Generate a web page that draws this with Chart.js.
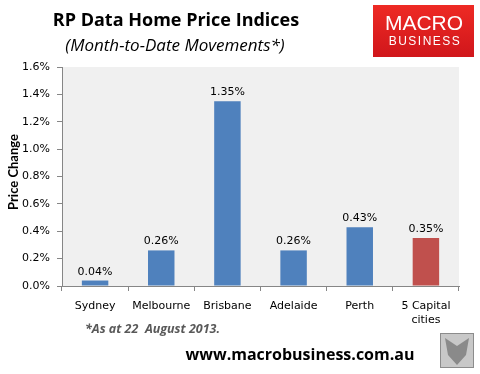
<!DOCTYPE html>
<html>
<head>
<meta charset="utf-8">
<script src="https://cdn.jsdelivr.net/npm/chart.js@4/dist/chart.umd.min.js"></script>
<style>
  html, body { margin: 0; padding: 0; background: #fff; }
  #wrap { position: relative; width: 480px; height: 374px; }
</style>
</head>
<body>
<div id="wrap"><canvas id="priceChart" width="480" height="374"></canvas></div>
<script>
const cities = ["Sydney", "Melbourne", "Brisbane", "Adelaide", "Perth", ["5 Capital", "cities"]];
const changes = [0.04, 0.26, 1.35, 0.26, 0.43, 0.35];
const barColors = ["#4F81BD", "#4F81BD", "#4F81BD", "#4F81BD", "#4F81BD", "#C0504D"];
const yTicks = [0, 0.2, 0.4, 0.6, 0.8, 1.0, 1.2, 1.4, 1.6];

const tickFont = { family: "'DejaVu Sans', sans-serif", size: 11 };

// grey plot area, value labels and the extra text around the chart
const decorations = {
    id: 'decorations',
    beforeDraw(chart) {
        let a = chart.chartArea;
        let c = chart.ctx;
        c.save();
        c.fillStyle = '#F0F0F0';
        c.fillRect(a.left, a.top, a.right - a.left, a.bottom - a.top);
        c.restore();
    },
    afterDatasetsDraw(chart) {
        let c = chart.ctx;
        c.save();
        c.font = "11px 'DejaVu Sans', sans-serif";
        c.fillStyle = '#000';
        c.textAlign = 'center';
        c.textBaseline = 'alphabetic';
        chart.getDatasetMeta(0).data.forEach((bar, i) => {
            c.fillText(changes[i].toFixed(2) + '%', bar.x, bar.y - 6);
        });
        c.restore();
    },
    afterDraw(chart) {
        let c = chart.ctx;
        c.save();
        c.textAlign = 'center';
        c.textBaseline = 'middle';
        c.fillStyle = '#000';
        c.font = "bold 18px 'Open Sans', sans-serif";
        c.fillText('RP Data Home Price Indices', 176, 21);
        c.font = "italic 17px 'Open Sans', sans-serif";
        c.fillText('(Month-to-Date Movements*)', 175, 46);

        // y axis title
        c.save();
        c.translate(14, 172);
        c.rotate(-Math.PI / 2);
        c.font = "bold 13px Lato, 'Open Sans', sans-serif";
        c.fillText('Price Change', 0, 0);
        c.restore();

        c.textAlign = 'left';
        c.fillStyle = '#595959';
        c.font = "bold italic 12.5px 'Open Sans', sans-serif";
        c.fillText('*As at 22  August 2013.', 85, 329);

        c.fillStyle = '#000';
        c.font = "bold 16px 'Open Sans', sans-serif";
        c.textAlign = 'center';
        c.fillText('www.macrobusiness.com.au', 300, 355);

        // logo box
        let g = c.createLinearGradient(0, 5, 0, 57);
        g.addColorStop(0, '#EE2A24');
        g.addColorStop(1, '#D0161B');
        c.fillStyle = g;
        c.fillRect(373, 5, 101, 52);
        c.fillStyle = '#fff';
        c.font = "21px 'Liberation Sans', sans-serif";
        c.fillText('MACRO', 424, 24);
        c.font = "12px 'Liberation Sans', sans-serif";
        c.letterSpacing = '1.5px';
        c.fillText('BUSINESS', 425, 42);
        c.letterSpacing = '0px';

        // small fox picture box
        c.fillStyle = '#C8C8C8';
        c.fillRect(440, 333, 34, 35);
        c.strokeStyle = '#8C8C8C';
        c.lineWidth = 1;
        c.strokeRect(440.5, 333.5, 33, 34);
        c.fillStyle = '#8a8a8a';
        c.beginPath();
        c.moveTo(445, 338);
        c.lineTo(457, 346);
        c.lineTo(469, 338);
        c.lineTo(466, 355);
        c.lineTo(457, 365);
        c.lineTo(448, 355);
        c.closePath();
        c.fill();
        c.restore();
    }
};

new Chart(document.getElementById('priceChart').getContext('2d'), {
    type: 'bar',
    data: {
        labels: cities,
        datasets: [{
            data: changes,
            backgroundColor: barColors,
            categoryPercentage: 1.0,
            barPercentage: 0.4
        }]
    },
    options: {
        responsive: false,
        animation: false,
        layout: { padding: { left: 0, top: 67, right: 21, bottom: 0 } },
        plugins: { legend: { display: false }, tooltip: { enabled: false } },
        scales: {
            x: {
                grid: { display: true, offset: true, drawOnChartArea: false, tickLength: 5, color: '#868686' },
                border: { color: '#868686' },
                ticks: { color: '#000', font: tickFont, padding: 9, maxRotation: 0, autoSkip: false },
                afterFit(scale) { scale.height = 88; }
            },
            y: {
                min: 0,
                max: 1.6,
                afterBuildTicks(scale) { scale.ticks = yTicks.map(v => ({ value: v })); },
                grid: { drawOnChartArea: false, tickLength: 5, color: '#868686' },
                border: { color: '#868686' },
                ticks: {
                    color: '#000',
                    font: tickFont,
                    padding: 7,
                    callback: v => v.toFixed(1) + '%'
                },
                afterFit(scale) { scale.width = 62; }
            }
        }
    },
    plugins: [decorations]
});
</script>
</body>
</html>
